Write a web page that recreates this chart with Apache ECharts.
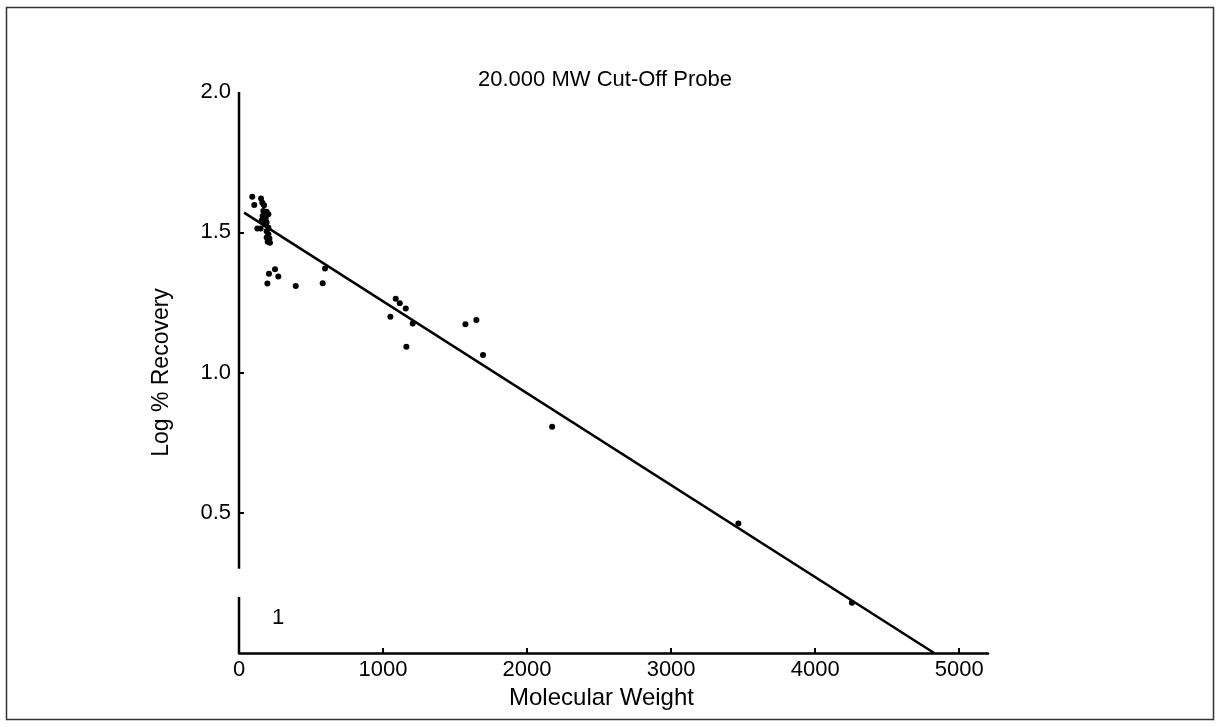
<!DOCTYPE html>
<html>
<head>
<meta charset="utf-8">
<script src="https://cdn.jsdelivr.net/npm/echarts@6/dist/echarts.min.js"></script>
<style>
html,body{margin:0;padding:0;background:#fff;}
#chart{width:1220px;height:727px;}
</style>
</head>
<body>
<div id="chart"></div>
<script>
// ---- data ----
const titleText = '20.000 MW Cut-Off Probe';
const xName = 'Molecular Weight';
const yName = 'Log % Recovery';
const xTicks = [0, 1000, 2000, 3000, 4000, 5000];
const yTicks = [0.5, 1.0, 1.5, 2.0];
const mwValues = [92, 106, 153, 162, 174, 169, 192, 204, 164, 185, 158, 192, 181, 204, 192, 204, 192, 211, 199, 215,
  127, 150, 208, 250, 273, 197, 394, 581, 597,
  1088, 1116, 1158, 1051, 1206, 1162, 1572, 1648, 1694, 2174, 3467, 4255];
const logRecovery = [1.627, 1.597, 1.620, 1.605, 1.596, 1.576, 1.573, 1.564, 1.558, 1.550, 1.543, 1.535, 1.528, 1.516, 1.504, 1.493, 1.481, 1.478, 1.466, 1.463,
  1.513, 1.513, 1.352, 1.368, 1.342, 1.317, 1.308, 1.318, 1.371,
  1.263, 1.247, 1.228, 1.199, 1.175, 1.092, 1.172, 1.187, 1.062, 0.807, 0.462, 0.179];
const fitX = [35, 4826];
const fitY = [1.57, 0.0];
const yAxisSegA = [0, 0.2];   // lower piece of the broken y axis line
const yAxisSegB = [0.3, 2.0]; // upper piece
const cornerNote = '1';

const chart = echarts.init(document.getElementById('chart'), null, {renderer: 'canvas'});
const font = 'Liberation Sans, Arial, sans-serif';
const option = {
  backgroundColor: '#fff',
  animation: false,
  title: {
    text: titleText, left: 600, top: 64, textAlign: 'center',
    textStyle: {fontFamily: font, fontSize: 22, fontWeight: 'normal', color: '#000'}
  },
  grid: {left: 239, top: 92, right: 232, bottom: 74, containLabel: false},
  xAxis: {
    type: 'value', min: 0, max: 5200, interval: 1000,
    name: xName, nameLocation: 'middle', nameGap: 30,
    nameTextStyle: {fontFamily: font, fontSize: 24, color: '#000', padding: [0, 24, 0, 0]},
    axisLine: {show: true, lineStyle: {color: '#000', width: 2.5}},
    axisTick: {show: true, inside: true, length: 5, lineStyle: {color: '#000', width: 2}, customValues: xTicks},
    axisLabel: {fontFamily: font, fontSize: 22, color: '#000', margin: 6, customValues: xTicks,
      formatter: v => String(v)},
    splitLine: {show: false}
  },
  yAxis: {
    type: 'value', min: 0, max: 2.0, interval: 0.5,
    name: yName, nameLocation: 'middle', nameGap: 66, nameRotate: 90,
    nameTextStyle: {fontFamily: font, fontSize: 23, color: '#000'},
    axisLine: {show: true, lineStyle: {color: 'rgba(0,0,0,0)', width: 1}},
    axisTick: {show: true, inside: true, length: 5, lineStyle: {color: '#000', width: 2}, customValues: [0.5, 1.0, 1.5]},
    axisLabel: {fontFamily: font, fontSize: 22, color: '#000', margin: 8, customValues: yTicks,
      formatter: v => v.toFixed(1)},
    splitLine: {show: false}
  },
  graphic: [
    {type: 'rect', shape: {x: 6.5, y: 7.5, width: 1207, height: 712},
      style: {fill: 'none', stroke: '#333', lineWidth: 1.5}, silent: true},
    {type: 'text', left: 272, top: 607,
      style: {text: cornerNote, fontFamily: font, fontSize: 22, fill: '#000'}}
  ],
  series: [
    {type: 'line', data: yAxisSegA.map(v => [0, v]), symbol: 'none',
      lineStyle: {color: '#000', width: 2.5}, z: 3},
    {type: 'line', data: yAxisSegB.map(v => [0, v]), symbol: 'none',
      lineStyle: {color: '#000', width: 2.5}, z: 3},
    {type: 'line', data: fitX.map((x, i) => [x, fitY[i]]), symbol: 'none',
      lineStyle: {color: '#000', width: 2.5}, z: 2},
    {type: 'scatter', data: mwValues.map((x, i) => [x, logRecovery[i]]), symbol: 'circle', symbolSize: 6,
      itemStyle: {color: '#000', opacity: 1}, z: 4}
  ]
};
chart.setOption(option);
</script>
</body>
</html>
